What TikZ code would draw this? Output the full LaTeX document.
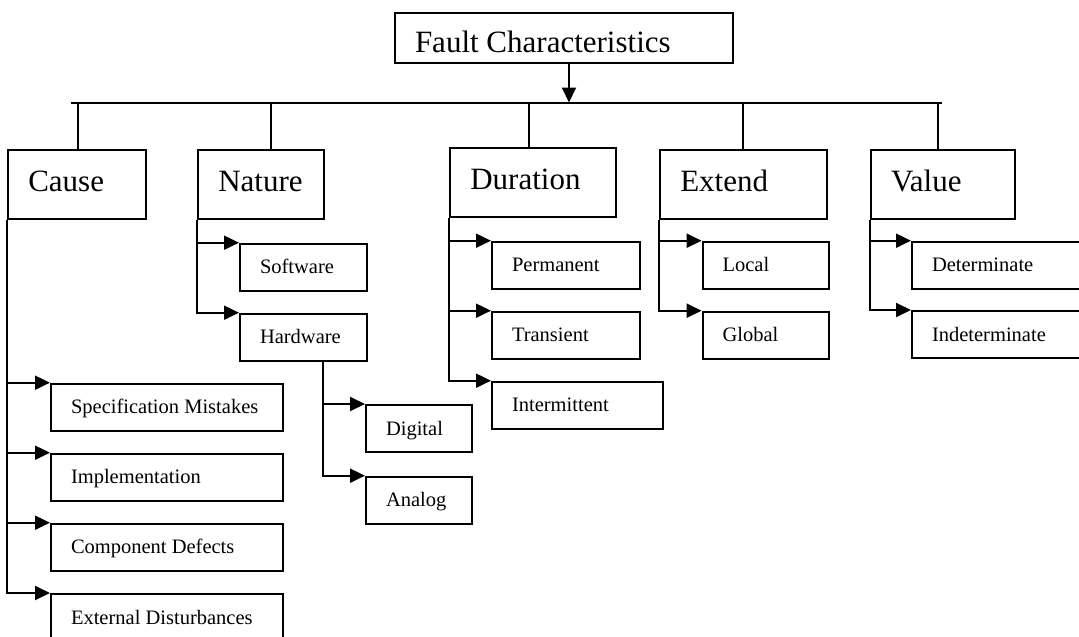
\documentclass[tikz,border=0pt]{standalone}
\usepackage{fontspec}
\setmainfont{Liberation Serif}
\usetikzlibrary{arrows.meta}

% left-aligned box text of a fixed width (never wraps)
\newcommand{\boxtext}[2]{\makebox[#1][l]{#2}}

\begin{document}
\begin{tikzpicture}[x=1pt,y=-1pt,
  box/.style={draw, line width=2pt, anchor=north west, inner xsep=20pt, inner ysep=0pt},
  bigbox/.style={box, font=\fontsize{31}{37}\selectfont, text height=41pt, text depth=27.5pt},
  smallbox/.style={box, font=\fontsize{20.5}{24}\selectfont, text height=30pt, text depth=16.8pt},
  link/.style={line width=2pt},
  arr/.style={link, -{Triangle[length=15pt,width=14pt]}}]

\useasboundingbox (0,0) rectangle (1079,637);
\clip (0,0) rectangle (1079,637);

% root
\node[bigbox, text height=40pt, text depth=10pt] (fault) at (394,11.7)
  {\boxtext{298.3pt}{Fault Characteristics}};

% first level
\node[bigbox] (cause)    at (7.3,149)   {\boxtext{97.7pt}{Cause}};
\node[bigbox] (nature)   at (197.3,149) {\boxtext{85.4pt}{Nature}};
\node[bigbox] (duration) at (449.3,147.3) {\boxtext{125.7pt}{Duration}};
\node[bigbox] (extend)   at (659.3,149) {\boxtext{126.4pt}{Extend}};
\node[bigbox] (value)    at (870,149)   {\boxtext{103.5pt}{Value}};

% cause
\node[smallbox] (spec) at (50,382.7) {\boxtext{191.7pt}{Specification Mistakes}};
\node[smallbox] (impl) at (50,452.7) {\boxtext{191.7pt}{Implementation}};
\node[smallbox] (comp) at (50,522.7) {\boxtext{191.7pt}{Component Defects}};
\node[smallbox] (extd) at (50,593)   {\boxtext{191.7pt}{External Disturbances}};

% nature
\node[smallbox] (soft) at (239,242.7) {\boxtext{86.7pt}{Software}};
\node[smallbox] (hard) at (239,312.7) {\boxtext{86.7pt}{Hardware}};
\node[smallbox] (digi) at (365,404)   {\boxtext{65.7pt}{Digital}};
\node[smallbox] (anlg) at (365,475.7) {\boxtext{65.7pt}{Analog}};

% duration
\node[smallbox] (perm)  at (491,240.7) {\boxtext{108pt}{Permanent}};
\node[smallbox] (trans) at (491,310.7) {\boxtext{108pt}{Transient}};
\node[smallbox] (inter) at (491,380.7) {\boxtext{130.7pt}{Intermittent}};

% extend
\node[smallbox] (local)  at (701.6,240.7) {\boxtext{86.4pt}{Local}};
\node[smallbox] (global) at (701.6,310.7) {\boxtext{86.4pt}{Global}};

% value
\node[smallbox] (det)   at (911,240.7) {\boxtext{160pt}{Determinate}};
\node[smallbox] (indet) at (911,310)   {\boxtext{160pt}{Indeterminate}};

% bus below the root
\coordinate (busL) at (70.6,102.5);
\coordinate (busR) at (942,102.5);
\coordinate (bj)   at (569,102.5);
\draw[link] (busL) -- (busR);
\draw[arr] (fault.south -| bj) -- (bj);

\coordinate (d1) at (78,102.5);
\coordinate (d2) at (270.7,102.5);
\coordinate (d3) at (529,102.5);
\coordinate (d4) at (743.3,102.5);
\coordinate (d5) at (938,102.5);
\draw[link] (d1) -- (d1 |- cause.north);
\draw[link] (d2) -- (d2 |- nature.north);
\draw[link] (d3) -- (d3 |- duration.north);
\draw[link] (d4) -- (d4 |- extend.north);
\draw[link] (d5) -- (d5 |- value.north);

% branches
\foreach \c in {spec,impl,comp,extd}
  \draw[arr] (cause.south west) |- (\c.north west);
\foreach \c in {soft,hard}
  \draw[arr] (nature.south west) |- (\c.north west);
\foreach \c in {digi,anlg}
  \draw[arr] ([xshift=83.7pt]hard.south west) |- (\c.north west);
\foreach \c in {perm,trans,inter}
  \draw[arr] (duration.south west) |- (\c.north west);
\foreach \c in {local,global}
  \draw[arr] (extend.south west) |- (\c.north west);
\foreach \c in {det,indet}
  \draw[arr] (value.south west) |- (\c.north west);

\end{tikzpicture}
\end{document}
